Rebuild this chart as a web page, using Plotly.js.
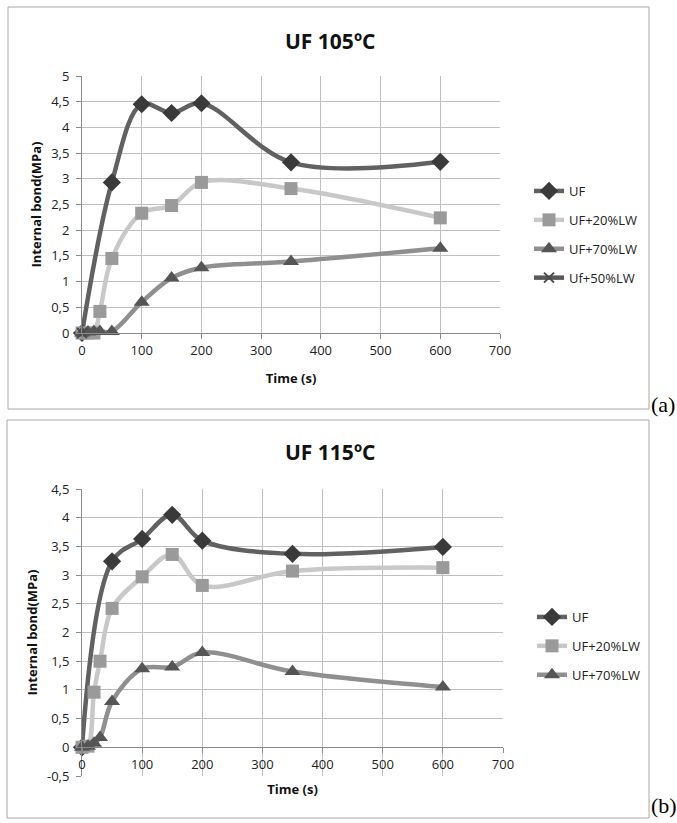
<!DOCTYPE html>
<html>
<head>
<meta charset="utf-8">
<script src="https://cdn.plot.ly/plotly-3.0.1.min.js"></script>
<style>html,body{margin:0;padding:0;background:#fff;}#chart{width:677px;height:823px;}</style>
</head>
<body>
<div id="chart"></div>
<script>
// ---- Data: chart (a) UF 105ºC ----
const seriesNames = ["UF", "UF+20%LW", "UF+70%LW", "Uf+50%LW"];
const timeA_UF = [0, 50, 100, 150, 200, 350, 600];
const ibA_UF = [0, 2.93, 4.45, 4.28, 4.47, 3.32, 3.33];
const timeA_LW = [0, 10, 20, 30, 50, 100, 150, 200, 350, 600];
const ibA_LW20 = [0, 0, 0, 0.42, 1.45, 2.33, 2.48, 2.93, 2.81, 2.24];
const ibA_LW70 = [0, 0.02, 0.03, 0.03, 0.03, 0.6, 1.07, 1.27, 1.39, 1.65];
const timeA_LW50 = [0];
const ibA_LW50 = [0];

// ---- Data: chart (b) UF 115ºC ----
const timeB_UF = [0, 50, 100, 150, 200, 350, 600];
const ibB_UF = [0, 3.24, 3.63, 4.05, 3.6, 3.37, 3.49];
const timeB_LW = [0, 10, 20, 30, 50, 100, 150, 200, 350, 600];
const ibB_LW20 = [0, 0.02, 0.96, 1.5, 2.42, 2.97, 3.36, 2.82, 3.07, 3.13];
const ibB_LW70 = [0, 0.02, 0.07, 0.17, 0.8, 1.37, 1.4, 1.65, 1.32, 1.05];

// ---- Tick labels ----
const titleA = "UF 105ºC";
const titleB = "UF 115ºC";
const xTickVals = [0, 100, 200, 300, 400, 500, 600, 700];
const yTickValsA = [0, 0.5, 1, 1.5, 2, 2.5, 3, 3.5, 4, 4.5, 5];
const yTickTextA = ["0", "0,5", "1", "1,5", "2", "2,5", "3", "3,5", "4", "4,5", "5"];
const yTickValsB = [-0.5, 0, 0.5, 1, 1.5, 2, 2.5, 3, 3.5, 4, 4.5];
const yTickTextB = ["-0,5", "0", "0,5", "1", "1,5", "2", "2,5", "3", "3,5", "4", "4,5"];

// ---- Styles ----
const W = 677, H = 823;
const px = v => v / W;
const py = v => 1 - v / H;
const FONT = "Open Sans, Lato, sans-serif";
const styles = [
  {line: "#616161", marker: "#3a3a3a", symbol: "diamond", size: 14},
  {line: "#c8c8c8", marker: "#9a9a9a", symbol: "square", size: 13},
  {line: "#8f8f8f", marker: "#555555", symbol: "triangle-up", size: 14},
  {line: "#5a5a5a", marker: "#4a4a4a", symbol: "x-thin-open", size: 10}
];

function tr(x, y, i, xa, ya, leg) {
  const s = styles[i];
  return {
    x: x, y: y, name: seriesNames[i], type: "scatter", mode: "lines+markers",
    xaxis: xa, yaxis: ya, legend: leg, legendgroup: leg + i,
    line: {color: s.line, width: 4.5, shape: "spline", smoothing: 1},
    marker: {symbol: s.symbol, size: s.size, color: s.marker, line: {color: s.marker, width: s.symbol === "x-thin-open" ? 2 : 0}},
    cliponaxis: false
  };
}

const data = [
  tr(timeA_UF, ibA_UF, 0, "x", "y", "legend"),
  tr(timeA_LW, ibA_LW20, 1, "x", "y", "legend"),
  tr(timeA_LW, ibA_LW70, 2, "x", "y", "legend"),
  tr(timeA_LW50, ibA_LW50, 3, "x", "y", "legend"),
  tr(timeB_UF, ibB_UF, 0, "x2", "y2", "legend2"),
  tr(timeB_LW, ibB_LW20, 1, "x2", "y2", "legend2"),
  tr(timeB_LW, ibB_LW70, 2, "x2", "y2", "legend2")
];

const gridC = "#c0c0c0", axisC = "#8a8a8a", tickFont = {family: FONT, size: 13, color: "#222"};
const titleFont = {family: FONT, size: 13, color: "#111", weight: "bold"};

function xaxis(domain, anchor, extra) {
  return Object.assign({
    domain: domain, anchor: anchor, range: [0, 700], tickvals: xTickVals,
    showgrid: true, gridcolor: gridC, gridwidth: 1, showline: true, linecolor: axisC, linewidth: 1,
    ticks: "outside", ticklen: 5, tickcolor: axisC, tickfont: tickFont, zeroline: false,
    title: {text: "<b>Time (s)</b>", font: titleFont, standoff: 16}, fixedrange: true
  }, extra || {});
}
function yaxis(domain, anchor, range, vals, text) {
  return {
    domain: domain, anchor: anchor, range: range, tickvals: vals, ticktext: text,
    showgrid: true, gridcolor: gridC, gridwidth: 1, showline: true, linecolor: axisC, linewidth: 1,
    ticks: "outside", ticklen: 5, tickcolor: axisC, tickfont: tickFont, zeroline: false,
    ticklabelstandoff: 4,
    title: {text: "<b>Internal bond(MPa)</b>", font: titleFont, standoff: 6}, fixedrange: true
  };
}

const domYB = [py(776), py(489)];
const zeroPosB = domYB[0] + (0 - (-0.5)) / 5 * (domYB[1] - domYB[0]);

const legendCommon = {
  font: {family: FONT, size: 13, color: "#222"}, bgcolor: "rgba(0,0,0,0)",
  tracegroupgap: 9, traceorder: "grouped", xanchor: "left", yanchor: "top", itemwidth: 30
};

const layout = {
  width: W, height: H, margin: {l: 0, r: 0, t: 0, b: 0},
  paper_bgcolor: "#fff", plot_bgcolor: "#fff", separators: ",.",
  font: {family: FONT},
  xaxis: xaxis([px(82), px(500)], "y"),
  yaxis: yaxis([py(333), py(76)], "x", [0, 5], yTickValsA, yTickTextA),
  xaxis2: xaxis([px(82), px(503)], "free", {position: zeroPosB, title: {text: "<b>Time (s)</b>", font: titleFont, standoff: 12}}),
  yaxis2: yaxis(domYB, "x2", [-0.5, 4.5], yTickValsB, yTickTextB),
  legend: Object.assign({x: px(529), y: py(176)}, legendCommon),
  legend2: Object.assign({x: px(532), y: py(602)}, legendCommon),
  showlegend: true,
  shapes: [
    {type: "rect", xref: "paper", yref: "paper", x0: px(8), x1: px(649), y0: py(409), y1: py(7), line: {color: "#a8a8a8", width: 1}},
    {type: "rect", xref: "paper", yref: "paper", x0: px(7), x1: px(649), y0: py(818), y1: py(420), line: {color: "#a8a8a8", width: 1}}
  ],
  annotations: [
    {text: "<b>" + titleA + "</b>", xref: "paper", yref: "paper", x: px(330), y: py(41), xanchor: "center", yanchor: "middle", showarrow: false, font: {family: FONT, size: 21, color: "#111"}},
    {text: "<b>" + titleB + "</b>", xref: "paper", yref: "paper", x: px(330), y: py(452), xanchor: "center", yanchor: "middle", showarrow: false, font: {family: FONT, size: 21, color: "#111"}},
    {text: "(a)", xref: "paper", yref: "paper", x: px(649), y: py(404), xanchor: "left", yanchor: "middle", showarrow: false, font: {family: "Liberation Serif, serif", size: 22, color: "#000"}},
    {text: "(b)", xref: "paper", yref: "paper", x: px(649), y: py(805), xanchor: "left", yanchor: "middle", showarrow: false, font: {family: "Liberation Serif, serif", size: 22, color: "#000"}}
  ]
};

Plotly.newPlot("chart", data, layout, {displayModeBar: false, staticPlot: true});
</script>
</body>
</html>
